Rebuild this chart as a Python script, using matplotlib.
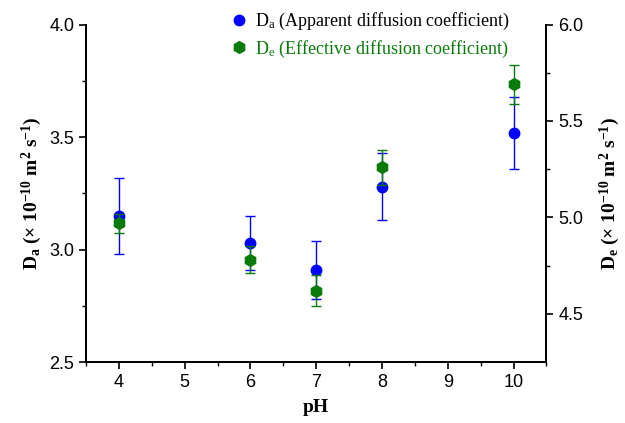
import matplotlib.pyplot as plt
from matplotlib.lines import Line2D

plt.rcParams['font.family'] = 'Liberation Sans'
plt.rcParams['mathtext.fontset'] = 'custom'
plt.rcParams['mathtext.rm'] = 'Liberation Serif'
plt.rcParams['mathtext.it'] = 'Liberation Serif:italic'
plt.rcParams['mathtext.bf'] = 'Liberation Serif:bold'

ph = [4, 6, 7, 8, 10]
da = [3.15, 3.03, 2.91, 3.28, 3.52]
da_err = [0.17, 0.12, 0.13, 0.15, 0.16]
de = [4.97, 4.78, 4.62, 5.26, 5.69]
de_err = [0.05, 0.07, 0.08, 0.09, 0.10]

blue = '#0000ff'
green = '#0a7a0a'

fig, ax = plt.subplots(figsize=(6.25, 4.23), dpi=100)
fig.subplots_adjust(left=0.1376, right=0.8744, top=0.942, bottom=0.144)
ax2 = ax.twinx()

ax.errorbar(ph, da, yerr=da_err, fmt='o', color=blue, ms=7.5, ecolor=blue,
            elinewidth=1, capsize=3.5, capthick=1)
ax2.errorbar(ph, de, yerr=de_err, fmt='h', color=green, ms=8.5, ecolor=green,
             elinewidth=1, capsize=3.5, capthick=1)

ax.set_xlim(3.5, 10.5)
ax.set_ylim(2.5, 4.0)
ax2.set_ylim(4.25, 6.0)
ax.set_xticks([4, 5, 6, 7, 8, 9, 10])
ax.set_xticks([3.5, 4.5, 5.5, 6.5, 7.5, 8.5, 9.5, 10.5], minor=True)
ax.set_yticks([2.5, 3.0, 3.5, 4.0])
ax.set_yticks([2.75, 3.25, 3.75], minor=True)
ax2.set_yticks([4.5, 5.0, 5.5, 6.0])
ax2.set_yticks([4.75, 5.25, 5.75], minor=True)
ax.yaxis.set_major_formatter(plt.FormatStrFormatter('%.1f'))
ax2.yaxis.set_major_formatter(plt.FormatStrFormatter('%.1f'))

for a in (ax, ax2):
    a.spines['top'].set_visible(False)
    a.tick_params(which='major', direction='out', length=5, width=1.2, labelsize=13)
    a.tick_params(which='minor', direction='out', length=3, width=1)
    for s in a.spines.values():
        s.set_linewidth(1.4)

ax.set_xlabel('pH', family='Liberation Serif', fontweight='bold', fontsize=14, labelpad=6)
ax.set_ylabel(r'$\mathbf{D_{a}\ (\times\ 10^{-10}\ m^{2}\ s^{-1})}$', fontsize=14, labelpad=4)
ax2.set_ylabel(r'$\mathbf{D_{e}\ (\times\ 10^{-10}\ m^{2}\ s^{-1})}$', fontsize=14, labelpad=10)

handles = [Line2D([], [], ls='', marker='o', color=blue, ms=7.5),
           Line2D([], [], ls='', marker='h', color=green, ms=8.5)]
labels = [r'D$_{\mathregular{a}}$ (Apparent diffusion coefficient)',
          r'D$_{\mathregular{e}}$ (Effective diffusion coefficient)']
leg = ax2.legend(handles, labels, loc='upper left', bbox_to_anchor=(0.339, 1.012),
                 bbox_transform=fig.transFigure, frameon=False, handletextpad=0.3,
                 handlelength=1.2, labelspacing=0.35,
                 prop={'family': 'Liberation Serif', 'size': 13})
leg.get_texts()[1].set_color(green)

fig.savefig('out.png', dpi=100)
